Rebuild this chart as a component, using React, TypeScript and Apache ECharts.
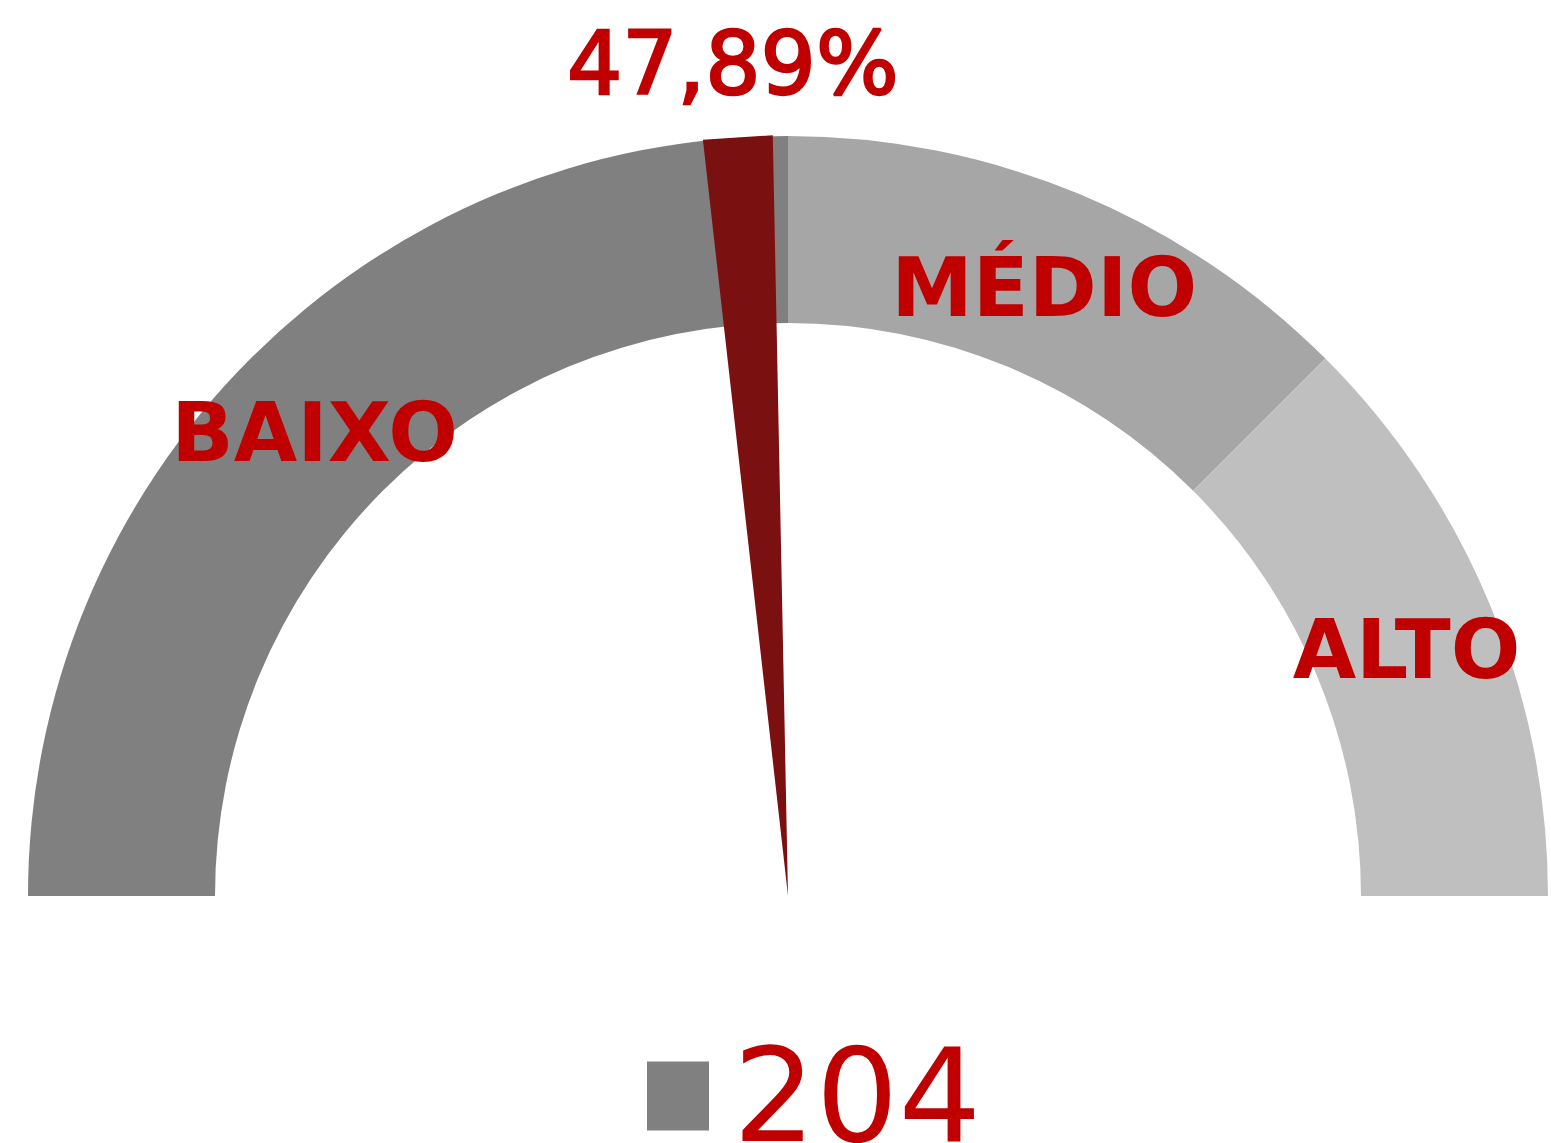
import React, { useEffect, useRef } from "react";
import * as echarts from "echarts";

const categories = ["BAIXO", "MÉDIO", "ALTO"];
const bandValues = [50, 25, 25];
const bandColors = ["#808080", "#a6a6a6", "#bfbfbf"];
const gaugeValue = 47.89;
const legendLabel = "204";

const RED = "#c00000";
const FONT = "DejaVu Sans";

export default function App() {
  const ref = useRef<HTMLDivElement>(null);
  useEffect(() => {
    if (!ref.current) return;
    const chart = echarts.init(ref.current, null, { renderer: "svg" });
    const center = [788, 896];
    const outerR = 760;
    const innerR = 573;
    const total = bandValues.reduce((a, b) => a + b, 0);
    const theta = (0.5 - gaugeValue / 100) * Math.PI;
    const labelR = 834;

    const pieData: any[] = categories.map((name, i) => ({
      name,
      value: bandValues[i],
      itemStyle: { color: bandColors[i] },
    }));
    pieData.push({
      name: "",
      value: total,
      itemStyle: { color: "rgba(0,0,0,0)" },
      label: { show: false },
    });

    chart.setOption({
      animation: false,
      backgroundColor: "#ffffff",
      legend: {
        data: [{ name: legendLabel, icon: "rect", itemStyle: { color: "#808080" } }],
        left: 647,
        top: 1031,
        padding: 0,
        itemWidth: 62,
        itemHeight: 69,
        selectedMode: false,
        textStyle: {
          fontFamily: FONT,
          fontSize: 130,
          lineHeight: 96,
          color: RED,
          padding: [0, 0, 0, 19],
        },
      },
      series: [
        {
          type: "pie",
          z: 1,
          silent: true,
          center,
          radius: [innerR, outerR],
          startAngle: 180,
          clockwise: true,
          avoidLabelOverlap: false,
          emphasis: { disabled: true },
          itemStyle: { borderWidth: 0 },
          label: {
            show: true,
            position: "inside",
            formatter: "{b}",
            fontFamily: FONT,
            fontSize: 82,
            fontWeight: "bold",
            color: RED,
            offset: [0, 10],
          },
          labelLine: { show: false },
          data: pieData,
        },
        {
          type: "gauge",
          name: legendLabel,
          z: 3,
          center,
          radius: outerR,
          min: 0,
          max: 100,
          startAngle: 180,
          endAngle: 0,
          axisLine: { show: false },
          splitLine: { show: false },
          axisTick: { show: false },
          axisLabel: { show: false },
          anchor: { show: false },
          title: { show: false },
          progress: { show: false },
          pointer: {
            show: true,
            icon: "path://M0,0 L2,0 L1,20 Z",
            width: 70,
            length: "100%",
            offsetCenter: [0, 0],
            keepAspect: false,
            itemStyle: { color: "#7b1010" },
          },
          detail: {
            show: true,
            offsetCenter: [-labelR * Math.sin(theta), -labelR * Math.cos(theta)],
            formatter: (v: number) => v.toFixed(2).replace(".", ",") + "%",
            fontFamily: FONT,
            fontSize: 87,
            fontWeight: "normal",
            color: RED,
            textBorderColor: RED,
            textBorderWidth: 2.5,
          },
          data: [{ value: gaugeValue, name: legendLabel }],
        },
      ],
    });
    return () => chart.dispose();
  }, []);
  return (
    <div
      ref={ref}
      style={{ position: "fixed", left: 0, top: 0, width: 1551, height: 1143 }}
    />
  );
}
